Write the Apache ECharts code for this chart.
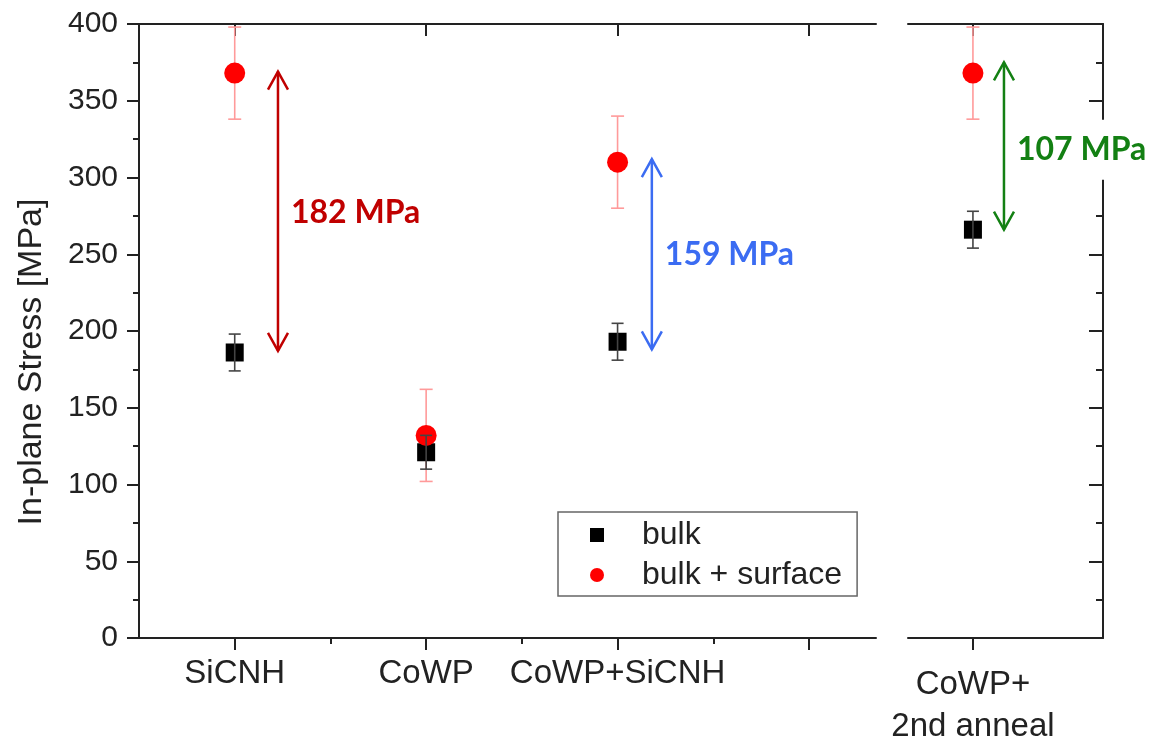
<!DOCTYPE html>
<html>
<head>
<meta charset="utf-8">
<script src="https://cdn.jsdelivr.net/npm/echarts@6/dist/echarts.min.js"></script>
<style>
html,body{margin:0;padding:0;background:#fff;}
#chart{width:1151px;height:743px;}
</style>
</head>
<body>
<div id="chart"></div>
<script>
// ---------- data ----------
const categories = ['SiCNH', 'CoWP', 'CoWP+SiCNH'];
const categoryPos = [1, 2, 3];
const annealCategory = 'CoWP+\n2nd anneal';
const annealPos = [1];

const bulkMean = [186, 121, 193];
const bulkErr = [12, 11, 12];
const surfMean = [368, 132, 310];
const surfErr = [30, 30, 30];

const annealBulkMean = [266];
const annealBulkErr = [12];
const annealSurfMean = [368];
const annealSurfErr = [30];

const yMin = 0, yMax = 400, yStep = 50;

// difference annotations (left panel)
const arrowX = [1.226, 3.179];
const arrowTop = [369, 312];
const arrowBottom = [187, 188];
const arrowLabelY = [277, 250];
const arrowLabels = ['182 MPa', '159 MPa'];
// difference annotation (right panel)
const annealArrowX = [1.162];
const annealArrowTop = [375];
const annealArrowBottom = [266];
const annealArrowLabelY = [318];
const annealArrowLabels = ['107 MPa'];

// ---------- styles ----------
const FONT = 'Liberation Sans, Arial, sans-serif';
const arrowColors = ['#c00000', '#3b6cf2'];
const annealArrowColors = ['#138013'];

function pts(xs, ys) { return xs.map((v, i) => [v, ys[i]]); }
function errData(xs, m, e) { return xs.map((v, i) => [v, m[i] - e[i], m[i] + e[i]]); }

function errRender(color, capHalf, lw) {
  return function (params, api) {
    const x = api.value(0), lo = api.value(1), hi = api.value(2);
    const a = api.coord([x, hi]), b = api.coord([x, lo]);
    const st = { stroke: color, lineWidth: lw };
    return { type: 'group', children: [
      { type: 'line', shape: { x1: a[0], y1: a[1], x2: b[0], y2: b[1] }, style: st },
      { type: 'line', shape: { x1: a[0] - capHalf, y1: a[1], x2: a[0] + capHalf, y2: a[1] }, style: st },
      { type: 'line', shape: { x1: b[0] - capHalf, y1: b[1], x2: b[0] + capHalf, y2: b[1] }, style: st }
    ]};
  };
}

function arrowRender(colors, labels, withBg) {
  return function (params, api) {
    const i = params.dataIndex;
    const x = api.value(0), top = api.value(1), bot = api.value(2), ly = api.value(3);
    const a = api.coord([x, top]), b = api.coord([x, bot]), l = api.coord([x, ly]);
    const c = colors[i];
    const st = { stroke: c, lineWidth: 2.5, fill: null };
    const hw = 10, hl = 18;
    const text = { type: 'text', z2: 10, x: l[0] + (withBg ? 11 : 13), y: l[1],
      style: { text: labels[i], fill: c, font: 'bold 32px Lato, "Open Sans", sans-serif',
        align: 'left', verticalAlign: 'middle' } };
    if (withBg) {
      text.style.backgroundColor = '#fff';
      text.style.padding = [14, 2, 14, 2];
    }
    return { type: 'group', children: [
      { type: 'line', shape: { x1: a[0], y1: a[1], x2: b[0], y2: b[1] }, style: st },
      { type: 'polyline', shape: { points: [[a[0] - hw, a[1] + hl], [a[0], a[1]], [a[0] + hw, a[1] + hl]] }, style: st },
      { type: 'polyline', shape: { points: [[b[0] - hw, b[1] - hl], [b[0], b[1]], [b[0] + hw, b[1] - hl]] }, style: st },
      text
    ]};
  };
}

const axisLineStyle = { color: '#222', width: 2 };
const leftMin = 0.5, leftMax = 4.35;
const rightMin = 0.661, rightMax = 1.679;

const option = {
  backgroundColor: '#fff',
  animation: false,
  grid: [
    { left: 139, top: 24, width: 737, height: 614, outerBoundsMode: 'none', containLabel: false },
    { left: 908, top: 24, width: 195, height: 614, outerBoundsMode: 'none', containLabel: false }
  ],
  xAxis: [
    { gridIndex: 0, type: 'value', min: leftMin, max: leftMax, position: 'bottom',
      axisLine: { show: true, lineStyle: axisLineStyle, onZero: false },
      axisTick: { show: true, customValues: [1, 2, 3, 4], length: 12, lineStyle: { color: '#222', width: 2 } },
      axisLabel: { show: true, customValues: categoryPos, margin: 19,
        formatter: v => categories[Math.round(v) - 1] || '',
        fontSize: 33, fontFamily: FONT, color: '#222' },
      splitLine: { show: false } },
    { gridIndex: 0, type: 'value', min: leftMin, max: leftMax, position: 'bottom',
      axisLine: { show: false, onZero: false },
      axisTick: { show: true, customValues: [1.5, 2.5, 3.5], length: 6, lineStyle: { color: '#222', width: 2 } },
      axisLabel: { show: false }, splitLine: { show: false } },
    { gridIndex: 0, type: 'value', min: leftMin, max: leftMax, position: 'top',
      axisLine: { show: true, lineStyle: axisLineStyle, onZero: false },
      axisTick: { show: true, inside: true, customValues: [1, 2, 3, 4], length: 12, lineStyle: { color: '#222', width: 2 } },
      axisLabel: { show: false }, splitLine: { show: false } },
    { gridIndex: 1, type: 'value', min: rightMin, max: rightMax, position: 'bottom',
      axisLine: { show: true, lineStyle: axisLineStyle, onZero: false },
      axisTick: { show: true, customValues: annealPos, length: 12, lineStyle: { color: '#222', width: 2 } },
      axisLabel: { show: true, customValues: annealPos, margin: 26, lineHeight: 42,
        formatter: () => annealCategory, fontSize: 33, fontFamily: FONT, color: '#222' },
      splitLine: { show: false } },
    { gridIndex: 1, type: 'value', min: rightMin, max: rightMax, position: 'top',
      axisLine: { show: true, lineStyle: axisLineStyle, onZero: false },
      axisTick: { show: true, inside: true, customValues: annealPos, length: 12, lineStyle: { color: '#222', width: 2 } },
      axisLabel: { show: false }, splitLine: { show: false } }
  ],
  yAxis: [
    { gridIndex: 0, type: 'value', min: yMin, max: yMax, interval: yStep, position: 'left',
      name: 'In-plane Stress [MPa]', nameLocation: 'middle', nameGap: 90,
      nameTextStyle: { fontSize: 34, fontFamily: FONT, color: '#222', padding: [0, 62, 0, 0] },
      axisLine: { show: true, lineStyle: axisLineStyle, onZero: false },
      axisTick: { show: true, length: 12, lineStyle: { color: '#222', width: 2 } },
      minorTick: { show: true, splitNumber: 2, length: 6, lineStyle: { color: '#222', width: 2 } },
      axisLabel: { show: true, margin: 21, fontSize: 30, fontFamily: FONT, color: '#222' },
      splitLine: { show: false } },
    { gridIndex: 1, type: 'value', min: yMin, max: yMax, interval: yStep, position: 'right',
      axisLine: { show: true, lineStyle: axisLineStyle, onZero: false },
      axisTick: { show: true, inside: true, length: 14, lineStyle: { color: '#222', width: 2 } },
      minorTick: { show: true, splitNumber: 2, length: 7, lineStyle: { color: '#222', width: 2 } },
      axisLabel: { show: false }, splitLine: { show: false } }
  ],
  legend: {
    data: ['bulk', 'bulk + surface'],
    orient: 'vertical', left: 558, top: 512,
    itemWidth: 14, itemHeight: 14, itemGap: 8,
    padding: [7, 15, 5, 32],
    borderColor: '#666', borderWidth: 1.5, borderRadius: 0,
    textStyle: { fontSize: 32, fontFamily: FONT, color: '#222', lineHeight: 32, padding: [0, 0, 0, 33] }
  },
  series: [
    { type: 'custom', name: 'surfErr', xAxisIndex: 0, yAxisIndex: 0, z: 1,
      renderItem: errRender('#ff9a9a', 6.5, 1.6), data: errData(categoryPos, surfMean, surfErr),
      encode: { x: 0, y: [1, 2] }, silent: true },
    { type: 'custom', name: 'surfErr2', xAxisIndex: 3, yAxisIndex: 1, z: 1,
      renderItem: errRender('#ff9a9a', 6.5, 1.6), data: errData(annealPos, annealSurfMean, annealSurfErr),
      encode: { x: 0, y: [1, 2] }, silent: true },
    { type: 'scatter', name: 'bulk', xAxisIndex: 0, yAxisIndex: 0, z: 2,
      symbol: 'rect', symbolSize: 18, itemStyle: { color: '#000', opacity: 1 },
      data: pts(categoryPos, bulkMean) },
    { type: 'scatter', name: 'bulk', xAxisIndex: 3, yAxisIndex: 1, z: 2,
      symbol: 'rect', symbolSize: 18, itemStyle: { color: '#000', opacity: 1 },
      data: pts(annealPos, annealBulkMean) },
    { type: 'scatter', name: 'bulk + surface', xAxisIndex: 0, yAxisIndex: 0, z: 3,
      symbol: 'circle', symbolSize: 21, itemStyle: { color: '#ff0000', opacity: 1 },
      data: pts(categoryPos, surfMean) },
    { type: 'scatter', name: 'bulk + surface', xAxisIndex: 3, yAxisIndex: 1, z: 3,
      symbol: 'circle', symbolSize: 21, itemStyle: { color: '#ff0000', opacity: 1 },
      data: pts(annealPos, annealSurfMean) },
    { type: 'custom', name: 'bulkErr', xAxisIndex: 0, yAxisIndex: 0, z: 4,
      renderItem: errRender('#444', 6, 1.6), data: errData(categoryPos, bulkMean, bulkErr),
      encode: { x: 0, y: [1, 2] }, silent: true },
    { type: 'custom', name: 'bulkErr2', xAxisIndex: 3, yAxisIndex: 1, z: 4,
      renderItem: errRender('#444', 6, 1.6), data: errData(annealPos, annealBulkMean, annealBulkErr),
      encode: { x: 0, y: [1, 2] }, silent: true },
    { type: 'custom', name: 'diff', xAxisIndex: 0, yAxisIndex: 0, z: 5, clip: false,
      renderItem: arrowRender(arrowColors, arrowLabels, false),
      data: arrowX.map((x, i) => [x, arrowTop[i], arrowBottom[i], arrowLabelY[i]]),
      encode: { x: 0, y: [1, 2] }, silent: true },
    { type: 'custom', name: 'diff2', xAxisIndex: 3, yAxisIndex: 1, z: 5, clip: false,
      renderItem: arrowRender(annealArrowColors, annealArrowLabels, true),
      data: annealArrowX.map((x, i) => [x, annealArrowTop[i], annealArrowBottom[i], annealArrowLabelY[i]]),
      encode: { x: 0, y: [1, 2] }, silent: true }
  ]
};

const chart = echarts.init(document.getElementById('chart'), null, { renderer: 'canvas' });
chart.setOption(option);
</script>
</body>
</html>
